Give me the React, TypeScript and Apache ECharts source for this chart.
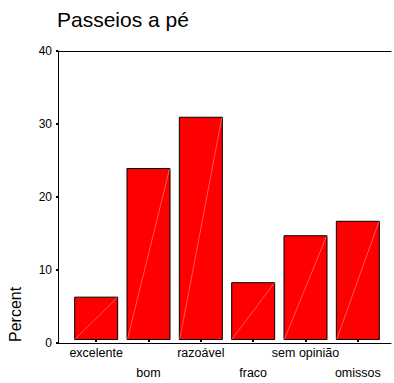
import React, { useEffect, useRef } from "react";
import * as echarts from "echarts";

const titleText = "Passeios a pé";
const yAxisName = "Percent";
const categories = ["excelente", "bom", "razoável", "fraco", "sem opinião", "omissos"];
const percentValues = [6.0, 23.8, 30.9, 8.0, 14.5, 16.5];
const yTicks = { min: 0, max: 40, interval: 10 };

const FONT = "Liberation Sans, Arial, sans-serif";

export default function App() {
  const ref = useRef<HTMLDivElement>(null);
  useEffect(() => {
    if (!ref.current) return;
    const chart = echarts.init(ref.current, null, { renderer: "svg" });
    const diagData = categories.map((_, i) => [i, percentValues[i]]);
    const option: any = {
      animation: false,
      backgroundColor: "#fff",
      textStyle: { fontFamily: FONT, color: "#000" },
      title: {
        text: titleText,
        left: 57,
        top: 9,
        padding: 0,
        textStyle: { fontSize: 21, fontWeight: "normal", color: "#000", fontFamily: FONT },
      },
      graphic: [
        {
          type: "text",
          x: 15,
          y: 342,
          rotation: Math.PI / 2,
          style: {
            text: yAxisName,
            fontSize: 16,
            fontFamily: FONT,
            fill: "#000",
            textAlign: "left",
            textVerticalAlign: "middle",
          },
        },
      ],
      grid: [
        { left: 58, right: 3, top: 51, bottom: 40 },
        { left: 70, right: 10, top: 51, bottom: 40 },
      ],
      xAxis: [
        {
          gridIndex: 0,
          type: "value",
          min: 0,
          max: 1,
          position: "bottom",
          axisLine: { show: true, lineStyle: { color: "#000", width: 1 } },
          axisTick: { show: false },
          axisLabel: { show: false },
          splitLine: { show: false },
        },
        {
          gridIndex: 0,
          type: "value",
          min: 0,
          max: 1,
          position: "top",
          axisLine: { show: true, lineStyle: { color: "#000", width: 1 } },
          axisTick: { show: false },
          axisLabel: { show: false },
          splitLine: { show: false },
        },
        {
          gridIndex: 1,
          type: "category",
          data: categories,
          axisLine: { show: false },
          axisTick: {
            show: true,
            alignWithLabel: true,
            length: 2,
            lineStyle: { color: "#000", width: 2 },
          },
          axisLabel: {
            interval: 0,
            margin: 3,
            fontSize: 12.5,
            lineHeight: 20,
            color: "#000",
            fontFamily: FONT,
            formatter: (v: string) => {
              const i = categories.indexOf(v);
              return i % 2 === 1 ? "\n" + v : v;
            },
          },
          splitLine: { show: false },
        },
      ],
      yAxis: [
        {
          gridIndex: 0,
          type: "value",
          min: yTicks.min,
          max: yTicks.max,
          interval: yTicks.interval,
          axisLine: { show: true, lineStyle: { color: "#000", width: 1 } },
          axisTick: { show: true, length: 2, lineStyle: { color: "#000", width: 2 } },
          axisLabel: { margin: 6, fontSize: 12, color: "#000", fontFamily: FONT },
          splitLine: { show: false },
        },
        {
          gridIndex: 1,
          type: "value",
          min: yTicks.min,
          max: yTicks.max,
          interval: yTicks.interval,
          show: false,
          splitLine: { show: false },
        },
      ],
      series: [
        {
          type: "bar",
          xAxisIndex: 2,
          yAxisIndex: 1,
          data: percentValues,
          barWidth: 44,
          itemStyle: { color: "#ff0000", borderColor: "#000", borderWidth: 1 },
        },
        {
          type: "custom",
          xAxisIndex: 2,
          yAxisIndex: 1,
          data: diagData,
          silent: true,
          z: 5,
          renderItem: (_params: any, api: any) => {
            const c0 = api.coord([api.value(0), 0]);
            const c1 = api.coord([api.value(0), api.value(1)]);
            return {
              type: "line",
              shape: { x1: c0[0] - 21, y1: c0[1] - 1, x2: c1[0] + 21, y2: c1[1] + 1 },
              style: { stroke: "rgba(255,170,170,0.85)", lineWidth: 0.6 },
            };
          },
        },
      ],
    };
    chart.setOption(option);
    return () => chart.dispose();
  }, []);
  return (
    <div
      ref={ref}
      style={{ position: "fixed", left: 0, top: 0, width: 394, height: 383, background: "#fff" }}
    />
  );
}
